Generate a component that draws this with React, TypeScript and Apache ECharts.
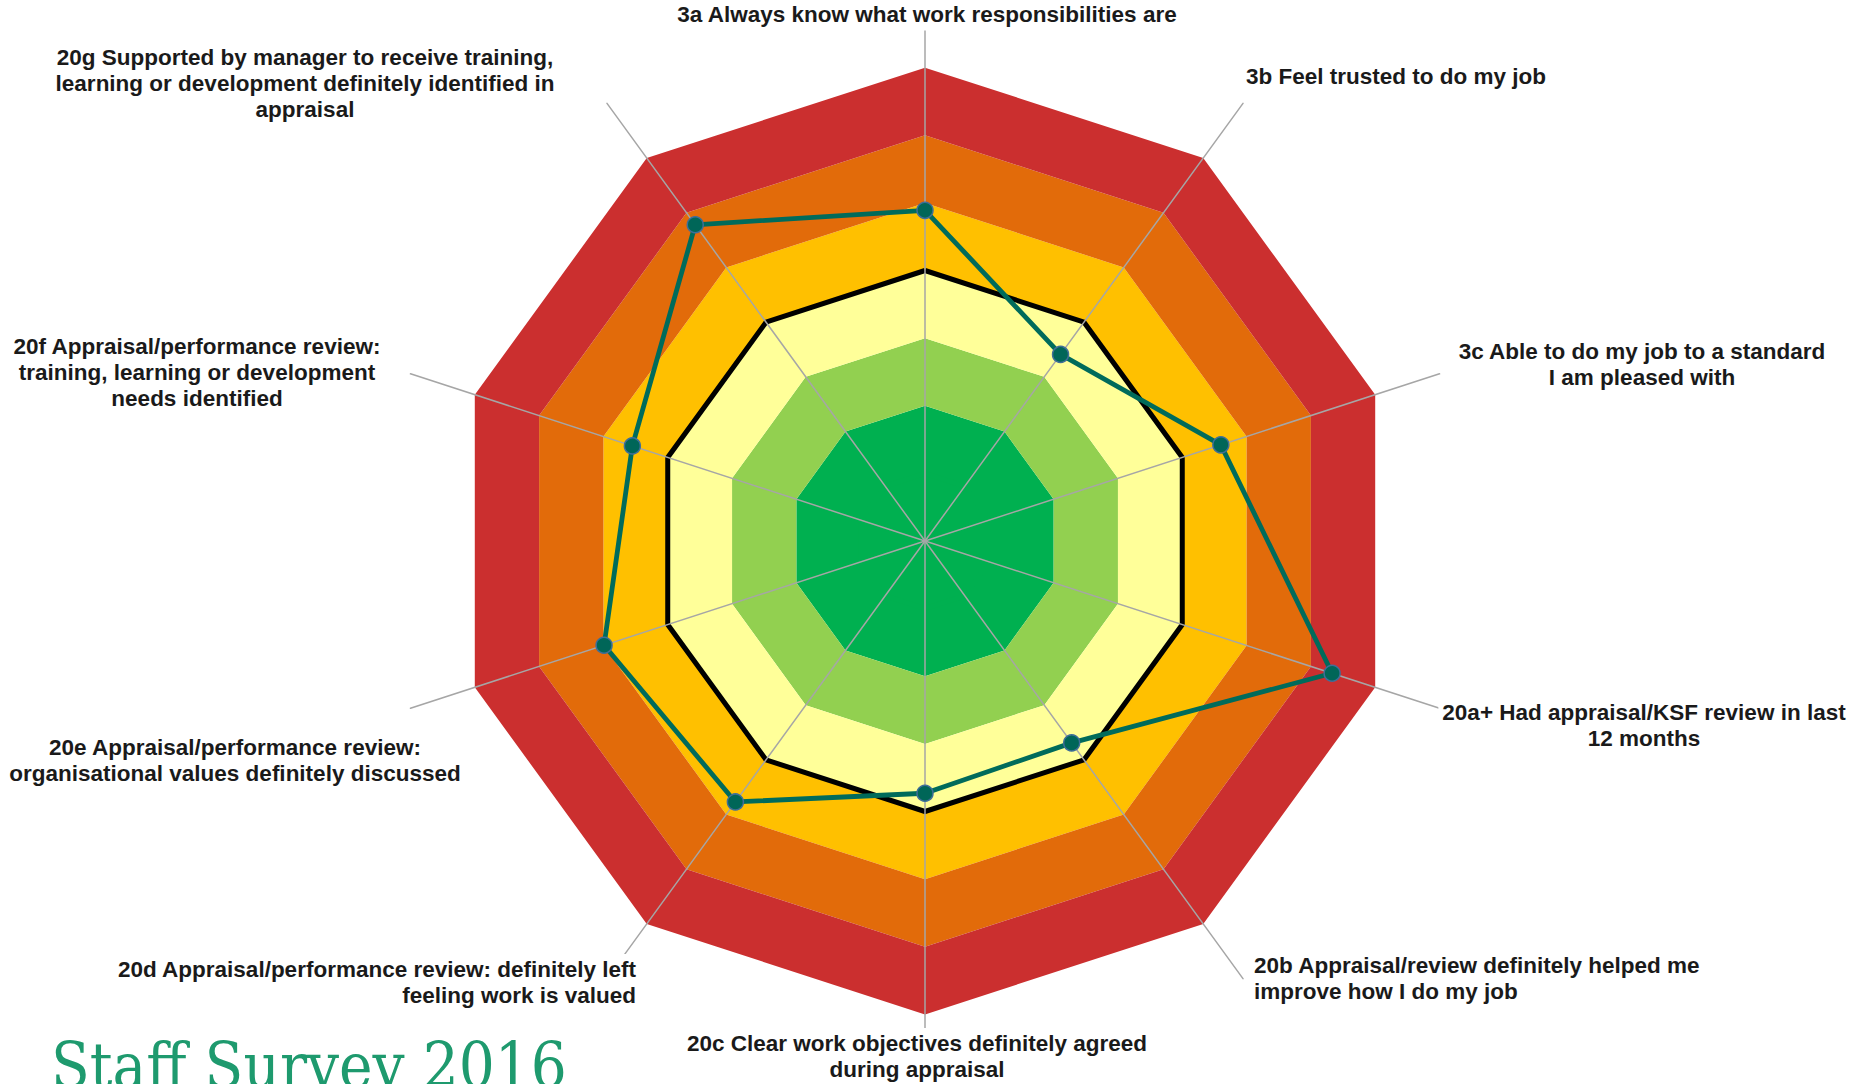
import React, { useEffect, useRef } from 'react';
import * as echarts from 'echarts';

// Categories in clockwise order, starting at the top
const categories: string[] = [
  '3a Always know what work responsibilities are',
  '3b Feel trusted to do my job',
  '3c Able to do my job to a standard\nI am pleased with',
  '20a+ Had appraisal/KSF review in last\n12 months',
  '20b Appraisal/review definitely helped me\nimprove how I do my job',
  '20c Clear work objectives definitely agreed\nduring appraisal',
  '20d Appraisal/performance review: definitely left\nfeeling work is valued',
  '20e Appraisal/performance review:\norganisational values definitely discussed',
  '20f Appraisal/performance review:\ntraining, learning or development\nneeds identified',
  '20g Supported by manager to receive training,\nlearning or development definitely identified in\nappraisal',
];

// Scores (0 = centre/best, 7 = outer edge)
const scores: number[] = [4.89, 3.41, 4.6, 6.33, 3.69, 3.73, 4.77, 4.99, 4.55, 5.78];

// Band colours for rings 0-1, 1-2, ..., 7-8
const ringColors: string[] = [
  '#00B050', '#00B050', '#92D050', '#FFFF99', '#FFC000', '#E26B0A', '#CB2F2F', 'rgba(0,0,0,0)',
];
const axisMax = 8;
const benchmarkRing = 4;

// Label layout (pixel positions of each category label)
const labelLayout: { x: number; y: number; align: string }[] = [
  { x: 927, y: -1, align: 'center' },
  { x: 1242, y: 61, align: 'left' },
  { x: 1642, y: 336, align: 'center' },
  { x: 1644, y: 697, align: 'center' },
  { x: 1250, y: 950, align: 'left' },
  { x: 917, y: 1028, align: 'center' },
  { x: 640, y: 954, align: 'right' },
  { x: 235, y: 732, align: 'center' },
  { x: 197, y: 331, align: 'center' },
  { x: 305, y: 42, align: 'center' },
];

const titleText = 'Staff Survey 2016';

export default function App() {
  const ref = useRef<HTMLDivElement>(null);
  useEffect(() => {
    if (!ref.current) return;
    const chart = echarts.init(ref.current, undefined, { renderer: 'svg' });
    // ECharts radar runs counter-clockwise: reverse all but the first
    const order = [0, ...Array.from({ length: categories.length - 1 }, (_, i) => categories.length - 1 - i)];
    const indicator = order.map((i) => ({ name: categories[i], min: 0, max: axisMax }));
    const values = order.map((i) => scores[i]);

    // Black benchmark ring; the ring inside the dark-green band is painted green to hide seams
    const lineColors = Array.from({ length: axisMax + 1 }, (_, i) =>
      i === benchmarkRing ? '#000000' : i === 1 ? ringColors[0] : 'rgba(0,0,0,0)'
    );

    const labels = categories.map((c, i) => ({
      type: 'text',
      x: labelLayout[i].x,
      y: labelLayout[i].y,
      z: 50,
      silent: true,
      style: {
        text: c,
        textAlign: labelLayout[i].align,
        textVerticalAlign: 'top',
        font: 'bold 22.5px "Liberation Sans", Arial, sans-serif',
        lineHeight: 25.6,
        fill: '#1a1a1a',
        backgroundColor: '#ffffff',
        padding: [3, 4],
      },
    }));

    chart.setOption({
      animation: false,
      backgroundColor: '#ffffff',
      radar: {
        center: [925, 541],
        radius: 541,
        startAngle: 90,
        splitNumber: axisMax,
        shape: 'polygon',
        indicator,
        axisName: { show: false },
        axisLine: { show: true, lineStyle: { color: '#a6a6a6', width: 1.5 } },
        axisTick: { show: false },
        axisLabel: { show: false },
        splitLine: { show: true, lineStyle: { color: lineColors, width: 5 } },
        splitArea: { show: true, areaStyle: { color: ringColors } },
      },
      series: [
        {
          type: 'radar',
          symbol: 'circle',
          symbolSize: 16,
          data: [
            {
              value: values,
              name: 'Score',
              lineStyle: { color: '#006B5B', width: 4.8 },
              itemStyle: { color: '#006658', borderColor: '#3F6E98', borderWidth: 1.5 },
            },
          ],
        },
      ],
      graphic: [
        ...labels,
        {
          type: 'text',
          x: 51,
          y: 1035,
          z: 50,
          silent: true,
          style: {
            text: titleText,
            textAlign: 'left',
            textVerticalAlign: 'top',
            font: '63px "DejaVu Serif Condensed", "DejaVu Serif", serif',
            fill: '#1E9A6E',
          },
        },
      ],
    });
    return () => chart.dispose();
  }, []);
  return (
    <div
      ref={ref}
      style={{ position: 'fixed', left: 0, top: 0, width: 1852, height: 1084, background: '#fff' }}
    />
  );
}
